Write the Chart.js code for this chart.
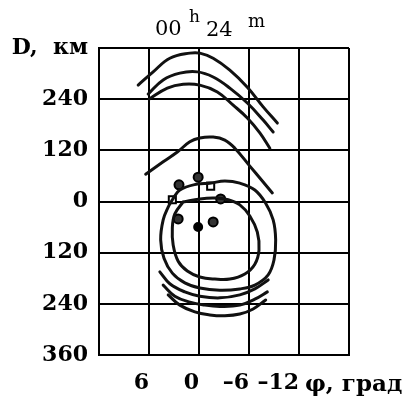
<!DOCTYPE html>
<html>
<head>
<meta charset="utf-8">
<script src="https://cdn.jsdelivr.net/npm/chart.js@4"></script>
<style>
  html, body { margin: 0; padding: 0; background: #fff; }
  #wrap { width: 411px; height: 400px; }
</style>
</head>
<body>
<div id="wrap"><canvas id="c" width="411" height="400"></canvas></div>
<script>
// Latitude axis (φ, degrees) and distance axis (D, km)
const latTicks = [12, 6, 0, -6, -12, -18];
const latLabels = ['', '6', '0', '–6', '–12', ''];
const distTicks = [360, 240, 120, 0, -120, -240, -360];
const distLabels = ['D,  км', '240', '120', '0', '120', '240', '360'];

// Upper arcs
const arcA_phi = [7.3, 5.5, 3.5, 1.1, -0.1, -1.7, -3.7, -5.8, -7.7, -9.4];
const arcA_D   = [273, 304, 336, 348, 348, 336, 308, 268, 222, 184];
const arcB_phi = [6.1, 4.3, 2.3, 0.2, -1.7, -3.7, -5.8, -7.7, -8.9];
const arcB_D   = [252, 285, 301, 304, 292, 266, 231, 191, 163];
const arcC_phi = [6.0, 3.8, 1.9, -0.1, -2.2, -4.1, -5.8, -7.3, -8.5];
const arcC_D   = [240, 266, 275, 273, 257, 226, 196, 161, 125];

// Middle arc
const arcD_phi = [6.4, 4.3, 2.6, 1.1, -0.1, -1.7, -3.1, -4.3, -6.1, -7.6, -8.8];
const arcD_D   = [64, 93, 116, 140, 149, 151, 144, 125, 83, 48, 20];

// Outer closed contour
const outer_phi = [3.2, 2.3, 0.2, -1.3, -3.1, -4.9, -6.7, -8.0, -8.9, -9.2, -9.0, -8.3, -6.7, -4.9, -2.5, -0.1, 1.7, 3.2, 4.2, 4.6, 4.3, 3.7, 3.2];
const outer_D   = [4, 27, 41, 43, 48, 43, 27, -4, -43, -90, -137, -172, -196, -205, -208, -203, -191, -168, -133, -90, -43, -13, 4];

// Inner closed contour
const inner_phi = [1.9, -0.1, -1.9, -3.5, -4.9, -6.1, -7.0, -7.2, -6.7, -5.5, -3.7, -1.9, -0.1, 1.4, 2.5, 3.1, 3.2, 2.9, 1.9];
const inner_D   = [-1, 6, 8, 4, -8, -34, -72, -114, -147, -170, -182, -182, -177, -163, -140, -102, -62, -29, -1];

// Lower arcs
const arcF_phi = [4.7, 3.5, 1.7, -0.1, -2.5, -4.9, -6.7, -8.3];
const arcF_D   = [-165, -193, -212, -222, -226, -219, -205, -184];
const arcG_phi = [4.3, 2.9, 1.1, -0.7, -2.5, -4.9, -6.7, -8.2];
const arcG_D   = [-196, -222, -236, -243, -246, -243, -229, -212];
const arcH_phi = [3.7, 2.3, 0.5, -1.3, -3.1, -4.9, -6.5, -8.0];
const arcH_D   = [-219, -243, -259, -266, -268, -264, -252, -231];

// Observation points
const ring_phi = [2.4, 0.1, -2.6, 2.5, -1.7];
const ring_D   = [39, 57, 6, -41, -48];
const square_phi = [3.2, -1.4];
const square_D   = [4, 36];
const dot_phi = [0.1];
const dot_D   = [-60];

const pts = (phi, d) => phi.map((p, i) => ({ x: p, y: d[i] }));

const curve = (phi, d) => ({
  data: pts(phi, d),
  borderColor: '#111',
  borderWidth: 3,
  pointRadius: 0,
  tension: 0.4,
  fill: false,
  borderCapStyle: 'round',
  borderJoinStyle: 'round'
});

const markers = (phi, d, style, bg, r) => ({
  data: pts(phi, d),
  showLine: false,
  pointStyle: style,
  pointRadius: r,
  pointBackgroundColor: bg,
  pointBorderColor: '#000',
  pointBorderWidth: 2
});

const datasets = [
  curve(arcA_phi, arcA_D),
  curve(arcB_phi, arcB_D),
  curve(arcC_phi, arcC_D),
  curve(arcD_phi, arcD_D),
  curve(outer_phi, outer_D),
  curve(inner_phi, inner_D),
  curve(arcF_phi, arcF_D),
  curve(arcG_phi, arcG_D),
  curve(arcH_phi, arcH_D),
  markers(ring_phi, ring_D, 'circle', '#333', 4.5),
  markers(square_phi, square_D, 'rect', '#fff', 5),
  markers(dot_phi, dot_D, 'circle', '#000', 4)
];

const tickFont = { family: '"DejaVu Serif", serif', size: 22, weight: 'bold' };

// Header "00h 24m" and the φ axis caption
const captions = {
  id: 'captions',
  afterDraw(chart) {
    const ctx = chart.ctx;
    ctx.save();
    ctx.fillStyle = '#000';
    ctx.textAlign = 'left';
    ctx.textBaseline = 'alphabetic';
    ctx.font = '21px "DejaVu Serif"';
    ctx.fillText('00', 155, 35);
    ctx.font = '17px "DejaVu Serif"';
    ctx.fillText('h', 189, 22);
    ctx.font = '21px "DejaVu Serif"';
    ctx.fillText('24', 206, 36);
    ctx.font = '18px "DejaVu Serif"';
    ctx.fillText('m', 248, 27);
    ctx.font = 'bold 23px "DejaVu Serif"';
    ctx.fillText('φ, град', 305, 391);
    ctx.restore();
  }
};

new Chart(document.getElementById('c'), {
  type: 'line',
  data: { datasets },
  options: {
    responsive: false,
    animation: false,
    layout: { padding: { top: 48, right: 62, bottom: 0, left: 0 } },
    plugins: {
      legend: { display: false },
      tooltip: { enabled: false },
      title: { display: false }
    },
    scales: {
      x: {
        type: 'linear',
        min: -18, max: 12,
        reverse: true,
        afterBuildTicks: s => { s.ticks = latTicks.map(v => ({ value: v })); },
        afterFit: s => { s.height = 45; },
        ticks: {
          autoSkip: false, maxRotation: 0, minRotation: 0,
          align: 'end', padding: 15, color: '#000', font: tickFont,
          callback: v => { const i = latTicks.indexOf(v); return i >= 0 ? latLabels[i] : ''; }
        },
        grid: { color: '#000', lineWidth: 2, drawTicks: false },
        border: { color: '#000', width: 2 }
      },
      y: {
        type: 'linear',
        min: -360, max: 360,
        afterBuildTicks: s => { s.ticks = distTicks.map(v => ({ value: v })); },
        afterFit: s => { s.width = 99; },
        ticks: {
          autoSkip: false, padding: 11, color: '#000', font: tickFont,
          callback: v => { const i = distTicks.indexOf(v); return i >= 0 ? distLabels[i] : ''; }
        },
        grid: { color: '#000', lineWidth: 2, drawTicks: false },
        border: { color: '#000', width: 2 }
      }
    }
  },
  plugins: [captions]
});
</script>
</body>
</html>
